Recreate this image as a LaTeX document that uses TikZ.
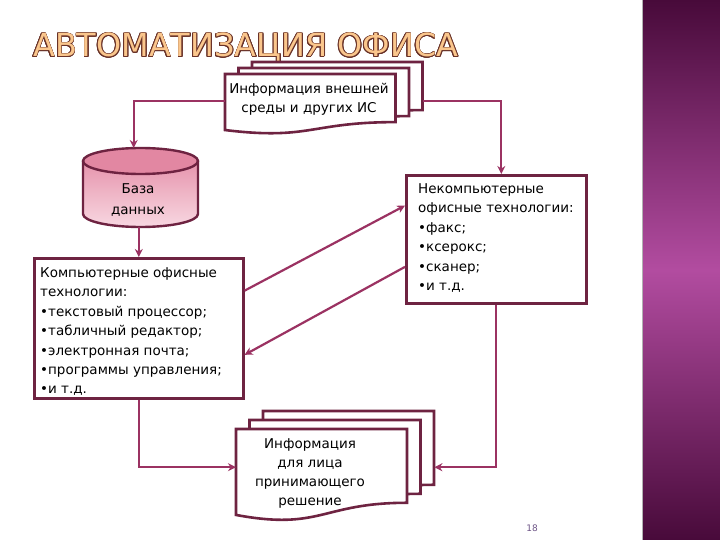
\documentclass[tikz,border=0pt]{standalone}
\usepackage{fontspec}
\setmainfont{DejaVu Sans}
\usepackage{graphicx}
\usepackage{contour}
\contourlength{0.8pt}
\usetikzlibrary{arrows.meta,calc}
\definecolor{boxc}{RGB}{110,35,65}
\definecolor{arrc}{RGB}{155,50,98}
\definecolor{dbA}{RGB}{226,135,162}
\definecolor{dbB}{RGB}{248,215,225}
\definecolor{bandA}{RGB}{72,10,58}
\definecolor{bandB}{RGB}{178,76,160}
\definecolor{titlef}{RGB}{250,198,140}
\definecolor{titleo}{RGB}{105,50,40}
\definecolor{pagec}{RGB}{110,85,135}
\tikzset{
  boxline/.style={draw=boxc, line width=2.6pt, fill=white},
  conn/.style={draw=arrc, line width=2.2pt, -{Stealth[length=8pt,width=8pt]}},
  ltxt/.style={font=\fontsize{13.5}{19.4}\selectfont, inner sep=0pt, align=left, anchor=north west},
  ctxt/.style={font=\fontsize{13.5}{19}\selectfont, inner sep=0pt, align=center, anchor=north},
  ghost/.style={inner sep=0pt, draw=none, anchor=north west},
}
\newcommand\mydocshape[4]{%
  \draw[boxline] (#1,#2) -- ({#1+#3},#2) -- ({#1+#3},{#2+0.802*#4})
    .. controls ({#1+0.5*#3},{#2+0.802*#4}) and ({#1+0.5*#3},{#2+1.107*#4}) .. (#1,{#2+0.934*#4}) -- cycle;}
\begin{document}
\begin{tikzpicture}[x=1pt,y=-1pt]
\useasboundingbox (0,0) rectangle (720,540);
\fill[white] (0,0) rectangle (720,540);
% right band
\shade[top color=bandA, bottom color=bandA, middle color=bandB] (643,0) rectangle (720,540);
\draw[gray!60, line width=1pt] (642.5,0) -- (642.5,540);
% title
\node[anchor=base west, inner sep=0pt] (title) at (33,57)
  {\resizebox{425pt}{!}{\fontsize{34}{34}\selectfont\contour{titleo}{\textcolor{titlef}{АВТОМАТИЗАЦИЯ ОФИСА}}}};
% top document stack
\mydocshape{252}{62}{170.5}{60}
\mydocshape{238.5}{68}{170.5}{60}
\mydocshape{225}{74}{170.5}{60}
\node[ghost, minimum width=170.5, minimum height=54] (tdoc) at (225,74) {};
\node[ghost, minimum width=170.5, minimum height=78] (tback) at (252,62) {};
\node[ctxt] (tdoctext) at (309,83.5) {Информация внешней\\среды и других ИС};
% database
\shade[top color=dbA, bottom color=dbB] (83,161) -- (83,214)
  arc[start angle=180, end angle=0, x radius=57.5, y radius=13] -- (198,161)
  arc[start angle=0, end angle=-180, x radius=57.5, y radius=13] -- cycle;
\fill[dbA] (140.5,161) ellipse[x radius=57.5, y radius=13];
\draw[draw=boxc, line width=2.4pt] (83,161) -- (83,214)
  arc[start angle=180, end angle=0, x radius=57.5, y radius=13] -- (198,161);
\draw[draw=boxc, line width=2.4pt] (140.5,161) ellipse[x radius=57.5, y radius=13];
\node[ghost, minimum width=115, minimum height=79] (db) at (83,148) {};
\node[ctxt, font=\fontsize{13.5}{21}\selectfont] (dbtext) at (138,183.5) {База\\данных};
% computer box
\node[boxline, ghost, draw=boxc, minimum width=209, minimum height=140] (comp) at (33,257) {};
\node[ltxt] (comptext) at (40,267.5) {Компьютерные офисные\\технологии:\\•текстовый процессор;\\•табличный редактор;\\•электронная почта;\\•программы управления;\\•и т.д.};
% non-computer box
\node[boxline, ghost, draw=boxc, minimum width=180, minimum height=128] (nc) at (405,174) {};
\node[ltxt] (nctext) at (418,183.5) {Некомпьютерные\\офисные технологии:\\•факс;\\•ксерокс;\\•сканер;\\•и т.д.};
% bottom document stack
\mydocshape{263}{411}{171}{92}
\mydocshape{249.5}{420}{171}{92}
\mydocshape{236}{429}{171}{92}
\node[ghost, minimum width=171, minimum height=76] (bdoc) at (236,429) {};
\node[ghost, minimum width=171, minimum height=112] (bback) at (263,411) {};
\node[ctxt] (bdoctext) at (310,438.5) {Информация\\для лица\\принимающего\\решение};
% connectors
\draw[conn] (tdoc.west) -| ([xshift=-7pt]db.north);
\draw[conn] (tback.east |- tdoc.west) -| ([xshift=5pt]nc.north);
\draw[conn] (db.south -| comp.north) -- (comp.north);
\draw[conn] ($(comp.north east)!0.236!(comp.south east)$) -- ($(nc.north west)!0.242!(nc.south west)$);
\draw[conn] ($(nc.north west)!0.711!(nc.south west)$) -- ($(comp.north east)!0.686!(comp.south east)$);
\draw[conn] (comp.south) |- (bdoc.west);
\draw[conn] (nc.south) |- (bback.east);
% page number
\node[font=\fontsize{9}{9}\selectfont, text=pagec, inner sep=0pt] (page) at (532,528) {18};
\end{tikzpicture}
\end{document}
